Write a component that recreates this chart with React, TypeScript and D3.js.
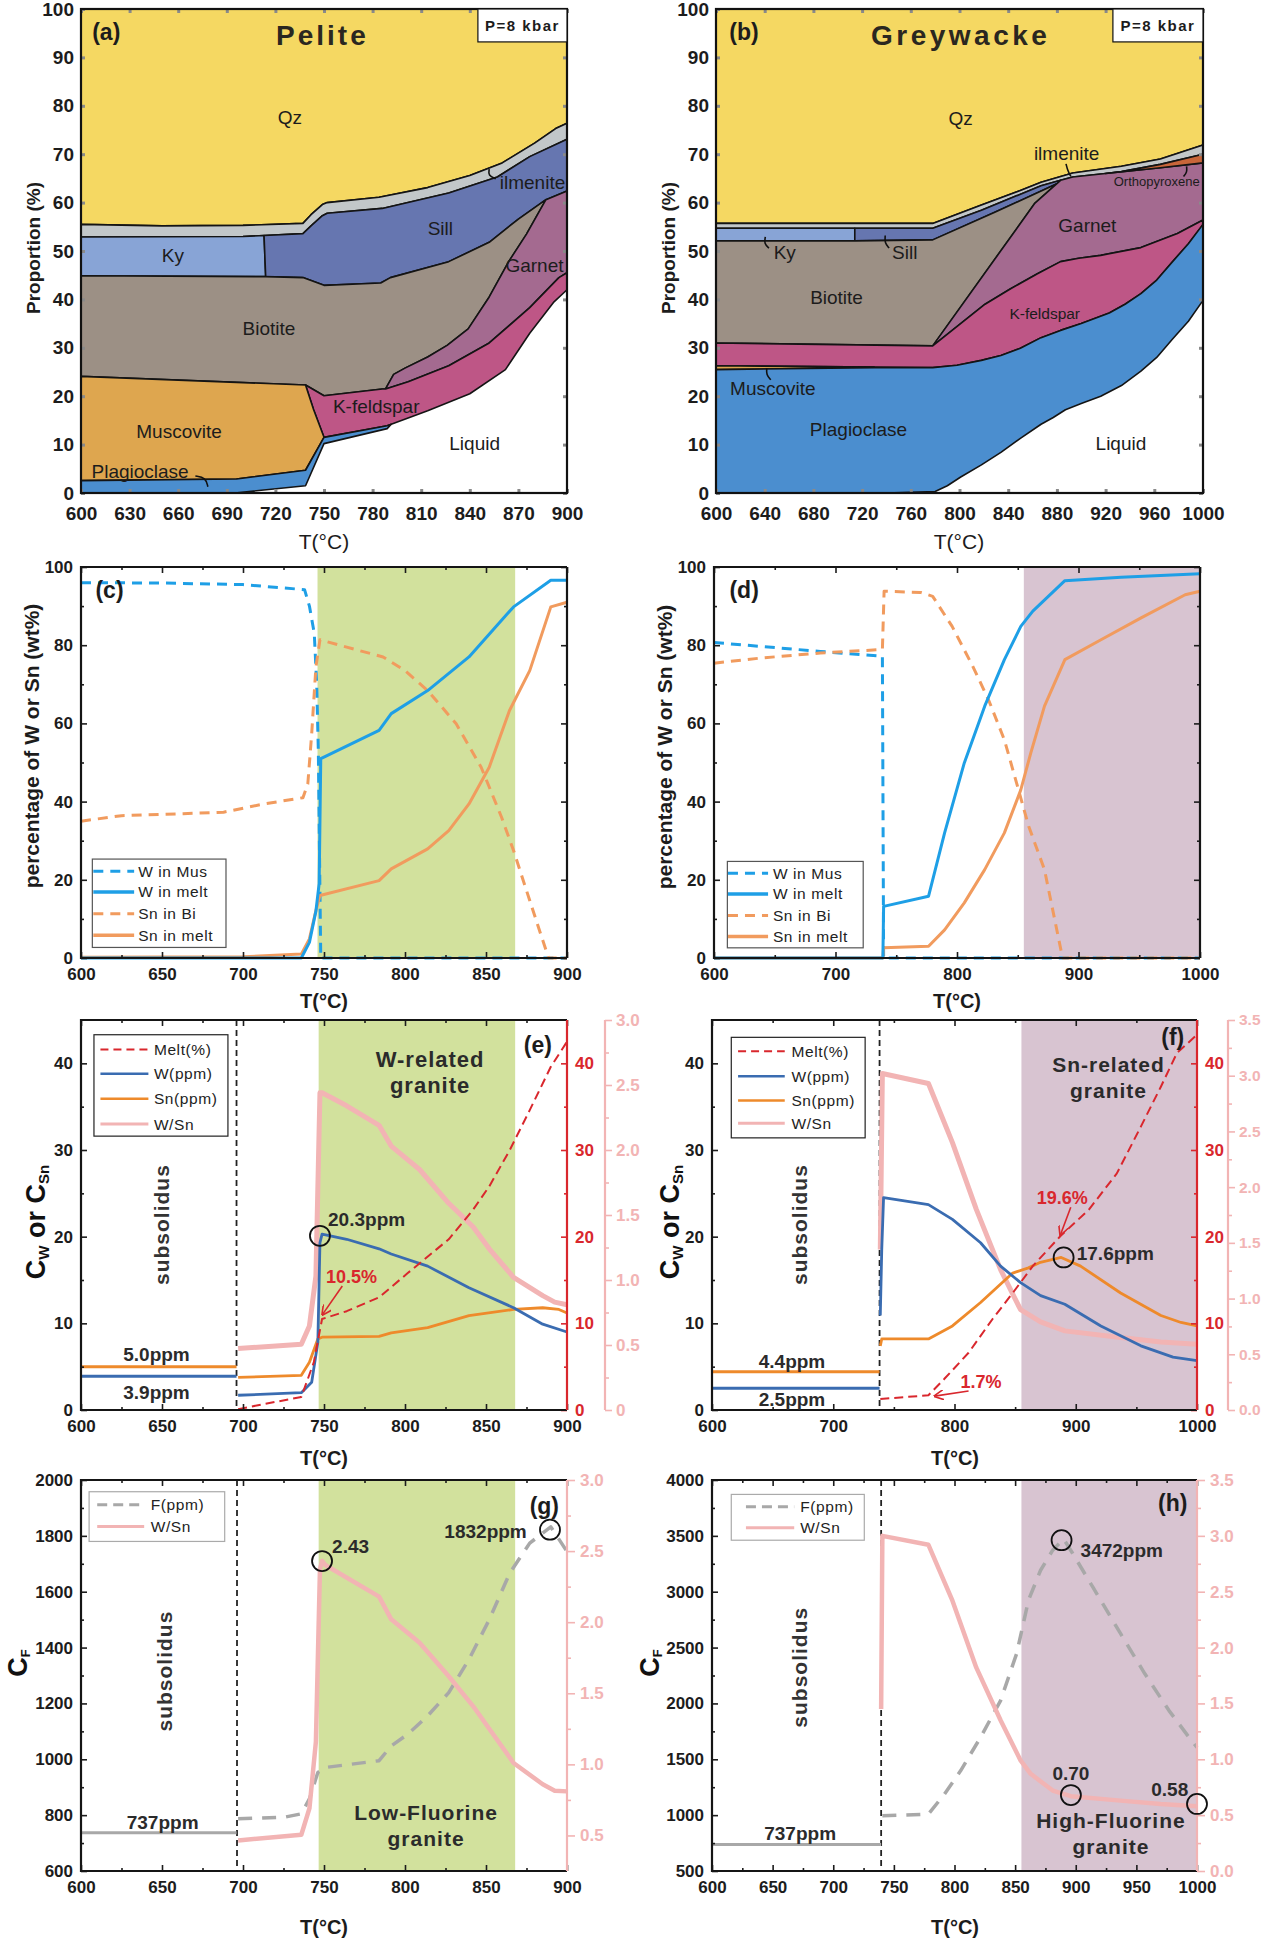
import { useEffect, useRef } from "react";
import * as d3 from "d3";

type Pt = [number, number];

// ---------- (a) Pelite phase fields: polygons in [T (°C), cumulative proportion (%)] ----------
const pelQz: Pt[] = [[600,55.5],[650,55.2],[700,55.3],[737,55.7],[742,57.5],[749,59.6],[752,60.0],[784,61.1],[814,63.1],[840,65.6],[860,68.2],[880,72.3],[893,75.3],[900,76.4],[900,100],[600,100]];
const pelIlm: Pt[] = [[600,55.5],[650,55.2],[700,55.3],[737,55.7],[742,57.5],[749,59.6],[752,60.0],[784,61.1],[814,63.1],[840,65.6],[860,68.2],[880,72.3],[893,75.3],[900,76.4],[900,73.1],[877,69.5],[857,65.3],[827,62.0],[786,58.8],[752,57.8],[749,57.3],[742,55.2],[737,53.6],[700,53.0],[600,52.9]];
const pelKy: Pt[] = [[600,52.9],[700,53.0],[713,53.2],[714,44.7],[600,44.9]];
const pelSill: Pt[] = [[713,53.2],[737,53.6],[742,55.2],[749,57.3],[752,57.8],[786,58.8],[827,62.0],[857,65.3],[877,69.5],[900,73.1],[900,62.4],[887,60.6],[870,56.6],[852,51.8],[827,47.8],[791,44.5],[785,43.4],[750,42.9],[737,44.5],[714,44.7]];
const pelBt: Pt[] = [[600,44.9],[714,44.7],[737,44.5],[750,42.9],[785,43.4],[791,44.5],[827,47.8],[852,51.8],[870,56.6],[887,60.6],[875,53.5],[864,47.8],[852,40.5],[839,33.9],[826,30.5],[814,28.1],[800,25.8],[793,24.5],[788,21.5],[786,21.5],[750,20.1],[738.6,22.3],[600,24.1]];
const pelGrt: Pt[] = [[887,60.6],[900,62.4],[900,45.5],[895,44.5],[877,38.3],[852,31.0],[827,26.3],[802,23.0],[788,21.5],[793,24.5],[800,25.8],[814,28.1],[826,30.5],[839,33.9],[852,40.5],[864,47.8],[875,53.5]];
const pelKfs: Pt[] = [[738.6,22.3],[750,20.1],[786,21.5],[788,21.5],[802,23.0],[827,26.3],[852,31.0],[877,38.3],[895,44.5],[900,45.5],[900,42.0],[892,39.5],[877,33.0],[862,25.5],[840,20.5],[814,17.0],[791.5,14.2],[789,13.9],[750,11.5],[743.6,17.2]];
const pelMs: Pt[] = [[600,24.1],[738.6,22.3],[743.6,17.2],[750,11.5],[738.6,4.7],[696,2.9],[600,2.55]];
const pelPl: Pt[] = [[600,2.55],[696,2.9],[738.6,4.7],[750,11.5],[789,13.9],[791.5,14.2],[789,13.3],[750,10.2],[738.6,1.5],[695,0],[600,0]];

// ---------- (b) Greywacke phase fields ----------
const gwQz: Pt[] = [[600,55.7],[778,55.7],[818,59.5],[850,62.5],[867,64.2],[893,66.1],[933,67.5],[965,69.0],[1000,71.9],[1000,100],[600,100]];
const gwIlm: Pt[] = [[600,55.7],[778,55.7],[818,59.5],[850,62.5],[867,64.2],[893,66.1],[933,67.5],[965,69.0],[1000,71.9],[1000,70.0],[965,67.9],[933,66.4],[920,66.0],[893,65.3],[883,64.6],[867,63.5],[818,58.4],[778,54.7],[600,54.7]];
const gwKy: Pt[] = [[600,54.7],[714,54.7],[714,52.1],[600,52.1]];
const gwSill: Pt[] = [[714,54.7],[778,54.7],[818,58.4],[867,63.5],[883,64.6],[880,63.9],[829,58.0],[778,52.3],[714,52.1]];
const gwBt: Pt[] = [[600,52.1],[714,52.1],[778,52.3],[829,58.0],[880,63.9],[862,59.9],[778,30.4],[600,31.0]];
const gwGrt: Pt[] = [[778,30.4],[862,59.9],[880,63.9],[883,64.6],[893,65.3],[920,66.0],[965,67.2],[1000,68.2],[1000,56.4],[979,53.6],[949,50.7],[916,49.1],[898,48.5],[883,47.8],[864,45.3],[842,42.2],[821,39.0]];
const gwOpx: Pt[] = [[920,66.0],[933,66.4],[965,67.9],[1000,70.0],[1000,68.2],[965,67.2]];
const gwKfs: Pt[] = [[600,31.0],[778,30.4],[821,39.0],[842,42.2],[864,45.3],[883,47.8],[898,48.5],[916,49.1],[949,50.7],[979,53.6],[1000,56.4],[1000,55.5],[988,51.5],[975,47.8],[962,44.0],[949,41.2],[936,39.0],[923,37.2],[900,35.0],[883,33.6],[867,32.1],[850,29.9],[834,28.4],[818,27.4],[798,26.4],[778,25.9],[730,26.0],[600,26.3]];
const gwMs: Pt[] = [[600,26.3],[730,26.0],[730,25.9],[600,25.5]];
const gwPl: Pt[] = [[600,25.5],[730,25.9],[778,25.9],[798,26.4],[818,27.4],[834,28.4],[850,29.9],[867,32.1],[883,33.6],[900,35.0],[923,37.2],[936,39.0],[949,41.2],[962,44.0],[975,47.8],[988,51.5],[1000,55.5],[1000,39.8],[988,35.5],[975,31.8],[962,28.0],[949,25.2],[933,22.2],[916,20.0],[900,18.5],[887,17.2],[877,15.6],[867,14.2],[850,11.3],[834,8.4],[818,5.8],[801,3.3],[790,1.5],[780,0.3],[740,0],[600,0]];

// ---------- (c) pelite: W and Sn distribution (wt%) ----------
const cWMus: Pt[] = [[600,96.0],[650,95.9],[700,95.5],[738,94.2],[741,90],[744,83],[745.5,70],[746.5,53],[747.2,27.5],[748,0],[900,0]];
const cWMelt: Pt[] = [[600,0],[736,0],[741,4],[745,12],[747,19],[748,51],[749,51.2],[784,58.2],[791.5,62.5],[814,68.4],[839.5,77],[867,89.8],[890,96.6],[900,96.6]];
const cSnBi: Pt[] = [[600,35],[625,36.4],[663,36.9],[688,37.3],[713,39.4],[737,41],[740,44.5],[742.4,57.3],[745,74.4],[747.5,81.4],[764,79.5],[786.5,77],[800,73.5],[814,68.4],[831.6,59.9],[847,48.8],[859.6,36],[867,27.5],[877,14.7],[888.6,0],[900,0]];
const cSnMelt: Pt[] = [[600,0.2],[700,0.3],[736,1],[741,4.9],[745,12.1],[747.5,16],[784,19.8],[791.5,22.8],[814,27.9],[827,32.6],[839.5,39.4],[852,48.8],[864.5,63.3],[877,73.5],[890,89.8],[900,91]];
const cBand: [number, number] = [746, 868];

// ---------- (d) greywacke: W and Sn distribution (wt%) ----------
const dWMus: Pt[] = [[600,80.7],[638,79.7],[687.5,78.4],[720.5,77.6],[738.6,77.2],[739.6,0],[1000,0]];
const dSnBi: Pt[] = [[600,75.4],[638,76.7],[687.5,78],[738.6,78.9],[740,93.8],[770,93.5],[780,92.5],[796,84.8],[813,74.6],[826,66],[839,55.8],[849,44.8],[859,33.7],[872,22.6],[885.5,2.1],[887,0],[1000,0]];
const dWMelt: Pt[] = [[600,0],[739,0],[739.6,13.2],[776.6,15.8],[789.8,32],[806,49.9],[822.8,64.4],[839,76.3],[852.5,84.8],[862.4,88.7],[888.8,96.5],[935,97.4],[1000,98.3]];
const dSnMelt: Pt[] = [[600,0],[739,0],[739.6,2.6],[776.6,3],[789.8,7.2],[806,14.1],[822.8,22.6],[839,32],[852.5,43],[860.7,52.4],[872,64.4],[888.8,76.3],[918.5,81.4],[951.5,87],[987.8,92.9],[1000,93.8]];
const dBand: [number, number] = [855, 1000];

// ---------- (e) pelite melt: Cw, Csn (ppm), melt (%), W/Sn ----------
const eMelt: Pt[] = [[697,0.1],[713.4,0.7],[736,1.5],[743.7,5.5],[748.8,10.5],[764,11.4],[784,13],[801.7,15.8],[827,19.7],[842,23.1],[852,25.8],[864.7,30],[877,34.6],[890,39.6],[900,42.5]];
const eW: Pt[] = [[697,1.7],[736,2.0],[742.4,3.2],[746.2,7.8],[747.5,19.3],[748.8,20.3],[764,19.7],[784,18.6],[791.5,18],[814,16.6],[839.5,14.1],[867,11.8],[885,9.9],[900,9.0]];
const eSn: Pt[] = [[697,3.76],[736,4.0],[741,5.5],[746.2,8.2],[748.8,8.4],[784,8.5],[791.5,8.9],[814,9.5],[839.5,10.9],[867,11.6],[885,11.8],[895,11.6],[900,11.2]];
const eRatio: Pt[] = [[697,0.473],[736,0.506],[741,0.647],[745,1.03],[747.5,2.44],[748.8,2.44],[764,2.34],[784,2.19],[791.5,2.03],[809,1.85],[827,1.59],[842,1.41],[852,1.24],[867,1.02],[885,0.88],[892.4,0.83],[900,0.81]];
const eWSub: Pt[] = [[600,3.9],[696,3.9]];
const eSnSub: Pt[] = [[600,5.0],[696,5.0]];
const eSolidus = 696;
const eBand: [number, number] = [746.7, 868];

// ---------- (f) greywacke melt ----------
const fMelt: Pt[] = [[738.8,1.27],[778.5,1.7],[791.7,3.6],[811.6,6.6],[831.4,10.5],[848,13.5],[864.5,16.6],[887.6,20.1],[910.7,23.1],[933.9,27.3],[953.7,32.7],[970.2,37.3],[983.5,41.2],[1000,43.3]];
const fW: Pt[] = [[738.8,10.9],[740,18.5],[741.5,24.5],[778.5,23.7],[798.3,22],[821.5,19.3],[838,16.6],[854.5,14.7],[871,13.2],[891,12.2],[920.7,9.7],[953.7,7.4],[980.2,6.1],[1000,5.7]];
const fSn: Pt[] = [[738.8,7.4],[740,8.2],[778.5,8.2],[798.3,9.7],[821.5,12.4],[848,15.8],[861,16.4],[870,17.0],[888,17.6],[904,16.6],[937,13.5],[970.2,10.9],[986.8,10.1],[1000,9.7]];
const fRatio: Pt[] = [[738.8,1.44],[740.5,3.02],[778.5,2.93],[798.3,2.4],[818,1.8],[838,1.26],[854.5,0.9],[871,0.79],[891,0.71],[937,0.65],[970.2,0.61],[1000,0.59]];
const fWSub: Pt[] = [[600,2.5],[738.2,2.5]];
const fSnSub: Pt[] = [[600,4.4],[738.2,4.4]];
const fSolidus = 738.2;
const fBand: [number, number] = [855.2, 1000];

// ---------- (g) pelite: F (ppm) and W/Sn ----------
const gF: Pt[] = [[697,786.7],[726,793],[736,804.6],[741,858],[746.2,953],[751.2,971],[784,995],[791.5,1048],[801.7,1090],[814,1155.5],[827,1238.7],[839.5,1357.7],[852,1500],[864.7,1667],[877,1774],[890,1832],[900,1744]];
const gRatio: Pt[] = [[697,0.465],[736,0.505],[741,0.69],[745,1.16],[747.5,2.37],[748.8,2.43],[751,2.4],[784,2.18],[791.5,2.02],[809,1.855],[827,1.62],[842,1.41],[852,1.25],[867,1.01],[885,0.86],[892.4,0.815],[900,0.81]];
const gFSub: Pt[] = [[600,737],[696,737]];
const gSolidus = 696.3;
const gBand: [number, number] = [746.7, 868];

// ---------- (h) greywacke: F (ppm) and W/Sn ----------
const hF: Pt[] = [[740.5,993.6],[778.5,1008.5],[791.7,1188],[805,1397],[821.5,1696.5],[838,2025.6],[851.2,2444],[861,2923],[871,3192],[881,3372],[890,3472],[897.5,3342],[914,3042.6],[937,2624],[957,2265],[976.9,1936],[993.4,1696.5],[1000,1607]];
const hRatio: Pt[] = [[739.5,1.45],[740.5,3.0],[778.5,2.92],[798.3,2.42],[818,1.82],[838,1.35],[854.5,0.99],[862.8,0.87],[881,0.72],[895.9,0.67],[937,0.63],[970,0.6],[1000,0.58]];
const hFSub: Pt[] = [[600,737],[739.5,737]];
const hSolidus = 739.5;
const hBand: [number, number] = [855.2, 1000];

const FONT = "'Liberation Sans', Arial, Helvetica, sans-serif";
const RED = "#D9272D";
const PINK = "#F2B4B4";
const BLUE_C = "#1E9FE6";
const ORANGE_C = "#F19B5E";
const BLUE_E = "#3A6CB1";
const ORANGE_E = "#EE8A2B";
const GREY_F = "#A8A8A8";
const GREEN = "#D2E19D";
const MAUVE = "#D8C4D1";
const INK = "#1c1c1c";

const App = () => {
  const ref = useRef<SVGSVGElement>(null);

  useEffect(() => {
    const svg = d3.select(ref.current);
    svg.selectAll("*").remove();
    const defs = svg.append("defs");
    defs
      .append("marker")
      .attr("id", "arrowRed")
      .attr("viewBox", "0 0 10 10")
      .attr("refX", 9)
      .attr("refY", 5)
      .attr("markerWidth", 10)
      .attr("markerHeight", 10)
      .attr("markerUnits", "userSpaceOnUse")
      .attr("orient", "auto")
      .append("path")
      .attr("d", "M0,0 L10,5 L0,10")
      .attr("fill", "none")
      .attr("stroke", RED)
      .attr("stroke-width", 1.6);

    const makePanel = (b: any, xd: number[], yd: number[]) => {
      const x = d3.scaleLinear().domain(xd).range([b.x0, b.x1]);
      const y = d3.scaleLinear().domain(yd).range([b.y1, b.y0]);
      const g = svg.append("g");
      return { x, y, g, b };
    };

    const drawAxis = (g: any, orient: string, scale: any, pos: number, values: number[], o: any) => {
      const gen =
        orient === "bottom" ? d3.axisBottom(scale) : orient === "top" ? d3.axisTop(scale) : orient === "left" ? d3.axisLeft(scale) : d3.axisRight(scale);
      gen
        .tickValues(values)
        .tickSize(o.size)
        .tickPadding(o.pad ?? 8)
        .tickFormat(o.labels === false ? () => "" : o.fmt ?? d3.format("d"));
      const tr = orient === "bottom" || orient === "top" ? `translate(0,${pos})` : `translate(${pos},0)`;
      const a = g.append("g").attr("transform", tr).call(gen);
      a.select(".domain").remove();
      a.selectAll(".tick line").attr("stroke", o.color ?? INK).attr("stroke-width", o.width ?? 1.6);
      a.selectAll(".tick text")
        .attr("fill", o.textColor ?? o.color ?? INK)
        .attr("font-size", o.fontSize ?? 17)
        .attr("font-weight", "bold")
        .attr("font-family", FONT);
    };

    const label = (g: any, x: number, y: number, s: string, o: any = {}) => {
      const t = g
        .append("text")
        .attr("x", x)
        .attr("y", y)
        .attr("text-anchor", o.anchor ?? "middle")
        .attr("dominant-baseline", "central")
        .attr("font-family", FONT)
        .attr("font-size", o.size ?? 19)
        .attr("font-weight", o.weight ?? "normal")
        .attr("letter-spacing", o.spacing ?? 0)
        .attr("fill", o.color ?? INK)
        .text(s);
      if (o.rotate) t.attr("transform", `rotate(-90,${x},${y})`);
      return t;
    };

    const path = (g: any, x: any, y: any, data: Pt[], color: string, width: number, dash?: string) =>
      g
        .append("path")
        .attr(
          "d",
          d3
            .line<Pt>()
            .x((d) => x(d[0]))
            .y((d) => y(d[1]))(data)
        )
        .attr("fill", "none")
        .attr("stroke", color)
        .attr("stroke-width", width)
        .attr("stroke-dasharray", dash ?? null)
        .attr("stroke-linejoin", "round");

    // ---------------- stacked phase panels ----------------
    const stacked = (b: any, xd: number[], xt: number[], phases: [Pt[], string][]) => {
      const p = makePanel(b, xd, [0, 100]);
      const poly = d3
        .line<Pt>()
        .x((d) => p.x(d[0]))
        .y((d) => p.y(d[1]))
        .curve(d3.curveLinearClosed);
      phases.forEach(([pts, fill]) =>
        p.g
          .append("path")
          .attr("d", poly(pts))
          .attr("fill", fill)
          .attr("stroke", "#141414")
          .attr("stroke-width", 1.6)
          .attr("stroke-linejoin", "round")
      );
      const yt = d3.range(0, 101, 10);
      const tk = { size: -4, color: "#8a8a8a", width: 3, textColor: INK, fontSize: 19 };
      drawAxis(p.g, "bottom", p.x, b.y1, xt, { ...tk, pad: 14 });
      drawAxis(p.g, "left", p.y, b.x0, yt, { ...tk, pad: 7 });
      drawAxis(p.g, "top", p.x, b.y0, xt, { ...tk, labels: false });
      drawAxis(p.g, "right", p.y, b.x1, yt, { ...tk, labels: false });
      p.g
        .append("rect")
        .attr("x", b.x0)
        .attr("y", b.y0)
        .attr("width", b.x1 - b.x0)
        .attr("height", b.y1 - b.y0)
        .attr("fill", "none")
        .attr("stroke", "#111")
        .attr("stroke-width", 2.2);
      return p;
    };

    const leader = (p: any, pts: Pt[]) =>
      p.g
        .append("path")
        .attr(
          "d",
          d3
            .line<Pt>()
            .x((d) => p.x(d[0]))
            .y((d) => p.y(d[1]))
            .curve(d3.curveBasis)(pts)
        )
        .attr("fill", "none")
        .attr("stroke", "#111")
        .attr("stroke-width", 1.6);

    const kbarBox = (p: any, t0: number) => {
      const b = p.b;
      p.g
        .append("rect")
        .attr("x", p.x(t0))
        .attr("y", b.y0)
        .attr("width", b.x1 - p.x(t0))
        .attr("height", p.y(93.2) - b.y0)
        .attr("fill", "#fff")
        .attr("stroke", "#111")
        .attr("stroke-width", 1.2);
      label(p.g, (p.x(t0) + b.x1) / 2, (b.y0 + p.y(93.2)) / 2, "P=8 kbar", { size: 15, weight: "bold", spacing: 1.5 });
    };

    // (a) Pelite
    const pa = stacked({ x0: 81, x1: 567, y0: 9, y1: 493 }, [600, 900], d3.range(600, 901, 30), [
      [pelQz, "#F5D862"],
      [pelIlm, "#C2C7C9"],
      [pelKy, "#88A4D6"],
      [pelSill, "#6676B0"],
      [pelBt, "#9C9085"],
      [pelGrt, "#A46A90"],
      [pelKfs, "#BE5686"],
      [pelMs, "#DEA64F"],
      [pelPl, "#4B8ECF"],
    ]);
    label(pa.g, pa.x(729), pa.y(77.5), "Qz");
    label(pa.g, pa.x(656.7), pa.y(49), "Ky");
    label(pa.g, pa.x(821.8), pa.y(54.7), "Sill");
    label(pa.g, pa.x(858.5), pa.y(64.2), "ilmenite", { anchor: "start" });
    leader(pa, [[852, 66.9], [851.3, 65.6], [856, 64.9]]);
    label(pa.g, pa.x(862), pa.y(47), "Garnet", { anchor: "start" });
    label(pa.g, pa.x(716), pa.y(34), "Biotite");
    label(pa.g, pa.x(755.5), pa.y(17.9), "K-feldspar", { anchor: "start" });
    label(pa.g, pa.x(660.5), pa.y(12.8), "Muscovite");
    label(pa.g, pa.x(843), pa.y(10.2), "Liquid");
    label(pa.g, pa.x(606.5), pa.y(4.4), "Plagioclase", { anchor: "start" });
    leader(pa, [[670.6, 3.5], [677, 3.2], [678.3, 1.3]]);
    label(pa.g, pa.x(749), pa.y(94.6), "Pelite", { size: 28, weight: "bold", spacing: 3, color: "#2a2720" });
    label(pa.g, pa.x(615.6), pa.y(95.3), "(a)", { size: 23, weight: "bold" });
    kbarBox(pa, 845);
    label(pa.g, 324, 541, "T(°C)", { size: 21 });
    label(pa.g, 33, 248, "Proportion (%)", { size: 19, weight: "bold", rotate: true });

    // (b) Greywacke
    const pb = stacked({ x0: 716, x1: 1203, y0: 9, y1: 493 }, [600, 1000], d3.range(600, 1001, 40), [
      [gwQz, "#F5D862"],
      [gwIlm, "#C2C7C9"],
      [gwKy, "#88A4D6"],
      [gwSill, "#6676B0"],
      [gwBt, "#9C9085"],
      [gwGrt, "#A46A90"],
      [gwOpx, "#C8663A"],
      [gwKfs, "#BE5686"],
      [gwMs, "#DEA64F"],
      [gwPl, "#4B8ECF"],
    ]);
    label(pb.g, pb.x(801), pb.y(77.4), "Qz");
    label(pb.g, pb.x(888), pb.y(70.1), "ilmenite");
    leader(pb, [[887.5, 68.0], [889, 66.5], [891.5, 65.4]]);
    label(pb.g, pb.x(962), pb.y(64.4), "Orthopyroxene", { size: 13 });
    leader(pb, [[986.5, 67.5], [987, 66.3], [984, 65.4]]);
    label(pb.g, pb.x(905), pb.y(55.3), "Garnet");
    label(pb.g, pb.x(656.5), pb.y(49.6), "Ky");
    leader(pb, [[640.5, 52.9], [639.5, 51.5], [643.5, 50.6]]);
    label(pb.g, pb.x(755), pb.y(49.6), "Sill");
    leader(pb, [[739, 53.2], [738.5, 51.7], [742.2, 50.6]]);
    label(pb.g, pb.x(699), pb.y(40.3), "Biotite");
    label(pb.g, pb.x(870), pb.y(37.1), "K-feldspar", { size: 15.5 });
    label(pb.g, pb.x(646.7), pb.y(21.5), "Muscovite");
    leader(pb, [[641.7, 25.8], [641.3, 24.4], [645, 23.4]]);
    label(pb.g, pb.x(717), pb.y(13.1), "Plagioclase");
    label(pb.g, pb.x(932.6), pb.y(10.2), "Liquid");
    label(pb.g, pb.x(801), pb.y(94.5), "Greywacke", { size: 28, weight: "bold", spacing: 3.5, color: "#2a2720" });
    label(pb.g, pb.x(623), pb.y(95.3), "(b)", { size: 23, weight: "bold" });
    kbarBox(pb, 926);
    label(pb.g, 959, 541, "T(°C)", { size: 21 });
    label(pb.g, 668, 248, "Proportion (%)", { size: 19, weight: "bold", rotate: true });

    // ---------------- line panels ----------------
    const band = (p: any, r: [number, number], color: string) =>
      p.g
        .append("rect")
        .attr("x", p.x(r[0]))
        .attr("y", p.b.y0)
        .attr("width", p.x(r[1]) - p.x(r[0]))
        .attr("height", p.b.y1 - p.b.y0)
        .attr("fill", color);

    const solidus = (p: any, t: number) =>
      p.g
        .append("line")
        .attr("x1", p.x(t))
        .attr("x2", p.x(t))
        .attr("y1", p.b.y0)
        .attr("y2", p.b.y1)
        .attr("stroke", "#222")
        .attr("stroke-width", 1.8)
        .attr("stroke-dasharray", "6,4");

    const xTicks = (p: any, major: number[], minor: number[]) => {
      drawAxis(p.g, "bottom", p.x, p.b.y1, major, { size: -6, pad: 10 });
      drawAxis(p.g, "bottom", p.x, p.b.y1, minor, { size: -3, labels: false });
      drawAxis(p.g, "top", p.x, p.b.y0, major, { size: -6, labels: false });
      drawAxis(p.g, "top", p.x, p.b.y0, minor, { size: -3, labels: false });
    };
    const yTicks = (p: any, major: number[], minor: number[], mirror: boolean) => {
      drawAxis(p.g, "left", p.y, p.b.x0, major, { size: -6, pad: 8 });
      drawAxis(p.g, "left", p.y, p.b.x0, minor, { size: -3, labels: false });
      if (mirror) {
        drawAxis(p.g, "right", p.y, p.b.x1, major, { size: -6, labels: false });
        drawAxis(p.g, "right", p.y, p.b.x1, minor, { size: -3, labels: false });
      }
    };
    const frame = (p: any, rightColor: string) => {
      const { x0, x1, y0, y1 } = p.b;
      p.g
        .append("path")
        .attr("d", `M${x1},${y0}H${x0}V${y1}H${x1}`)
        .attr("fill", "none")
        .attr("stroke", "#151515")
        .attr("stroke-width", 2.2);
      p.g
        .append("line")
        .attr("x1", x1)
        .attr("x2", x1)
        .attr("y1", y0)
        .attr("y2", y1)
        .attr("stroke", rightColor)
        .attr("stroke-width", 2.2);
    };
    const legend = (p: any, ys: any, bx: number[], rows: any[], rowY: number[], sample: number[], tx: number, border: string) => {
      p.g
        .append("rect")
        .attr("x", p.x(bx[0]))
        .attr("y", ys(bx[2]))
        .attr("width", p.x(bx[1]) - p.x(bx[0]))
        .attr("height", ys(bx[3]) - ys(bx[2]))
        .attr("fill", "#fff")
        .attr("stroke", border)
        .attr("stroke-width", 1.2);
      rows.forEach(([name, color, w, dash]: any, i: number) => {
        p.g
          .append("line")
          .attr("x1", p.x(sample[0]))
          .attr("x2", p.x(sample[1]))
          .attr("y1", ys(rowY[i]))
          .attr("y2", ys(rowY[i]))
          .attr("stroke", color)
          .attr("stroke-width", w)
          .attr("stroke-dasharray", dash);
        label(p.g, p.x(tx), ys(rowY[i]), name, { anchor: "start", size: 15.5, spacing: 0.6, color: "#222" });
      });
    };
    const circle = (p: any, cx: number, cy: number) =>
      p.g.append("circle").attr("cx", cx).attr("cy", cy).attr("r", 10).attr("fill", "none").attr("stroke", "#111").attr("stroke-width", 1.8);
    const arrow = (p: any, a: Pt, b: Pt) =>
      p.g
        .append("line")
        .attr("x1", p.x(a[0]))
        .attr("y1", p.y(a[1]))
        .attr("x2", p.x(b[0]))
        .attr("y2", p.y(b[1]))
        .attr("stroke", RED)
        .attr("stroke-width", 1.6)
        .attr("marker-end", "url(#arrowRed)");

    const cdRows = [
      ["W in Mus", BLUE_C, 3, "10,7"],
      ["W in melt", BLUE_C, 3.5, null],
      ["Sn in Bi", ORANGE_C, 3, "10,7"],
      ["Sn in melt", ORANGE_C, 3.5, null],
    ];

    // (c)
    const pc = makePanel({ x0: 81, x1: 567, y0: 567, y1: 958 }, [600, 900], [0, 100]);
    band(pc, cBand, GREEN);
    path(pc.g, pc.x, pc.y, cWMus, BLUE_C, 3, "10,7");
    path(pc.g, pc.x, pc.y, cSnBi, ORANGE_C, 3, "10,7");
    path(pc.g, pc.x, pc.y, cSnMelt, ORANGE_C, 3);
    path(pc.g, pc.x, pc.y, cWMelt, BLUE_C, 3);
    xTicks(pc, d3.range(600, 901, 50), d3.range(625, 900, 50));
    yTicks(pc, d3.range(0, 101, 20), d3.range(10, 100, 20), true);
    frame(pc, "#151515");
    legend(pc, pc.y, [607, 689.5, 25.3, 2.7], cdRows, [22.2, 16.9, 11.3, 5.8], [607.6, 632.8], 635.3, "#555");
    label(pc.g, pc.x(617.6), pc.y(94), "(c)", { size: 23, weight: "bold" });
    label(pc.g, 324, 1001, "T(°C)", { size: 20, weight: "bold" });
    label(pc.g, 31, 746, "percentage of W or Sn (wt%)", { size: 21, weight: "bold", rotate: true });

    // (d)
    const pd = makePanel({ x0: 714, x1: 1200, y0: 567, y1: 958 }, [600, 1000], [0, 100]);
    band(pd, dBand, MAUVE);
    path(pd.g, pd.x, pd.y, dWMus, BLUE_C, 3, "10,7");
    path(pd.g, pd.x, pd.y, dSnBi, ORANGE_C, 3, "10,7");
    path(pd.g, pd.x, pd.y, dSnMelt, ORANGE_C, 3);
    path(pd.g, pd.x, pd.y, dWMelt, BLUE_C, 3);
    xTicks(pd, d3.range(600, 1001, 100), d3.range(650, 1000, 100));
    yTicks(pd, d3.range(0, 101, 20), d3.range(10, 100, 20), true);
    frame(pd, "#151515");
    legend(pd, pd.y, [611, 722.8, 24.7, 2.6], cdRows, [21.7, 16.4, 10.9, 5.5], [611.5, 644.5], 648.5, "#555");
    label(pd.g, pd.x(624.8), pd.y(94.2), "(d)", { size: 23, weight: "bold" });
    label(pd.g, 957, 1001, "T(°C)", { size: 20, weight: "bold" });
    label(pd.g, 664, 747, "percentage of W or Sn (wt%)", { size: 21, weight: "bold", rotate: true });

    const efRows = [
      ["Melt(%)", RED, 2, "8,5"],
      ["W(ppm)", BLUE_E, 2.5, null],
      ["Sn(ppm)", ORANGE_E, 2.5, null],
      ["W/Sn", PINK, 3, null],
    ];

    const cwTitle = (p: any, x: number, y: number) => {
      const t = p.g
        .append("text")
        .attr("x", x)
        .attr("y", y)
        .attr("text-anchor", "middle")
        .attr("dominant-baseline", "central")
        .attr("font-family", FONT)
        .attr("font-weight", "bold")
        .attr("font-size", 27)
        .attr("fill", "#111")
        .attr("transform", `rotate(-90,${x},${y})`);
      t.append("tspan").text("C");
      t.append("tspan").attr("font-size", 15).attr("dy", 7).text("W");
      t.append("tspan").attr("dy", -7).text(" or C");
      t.append("tspan").attr("font-size", 15).attr("dy", 7).text("Sn");
    };
    const cfTitle = (p: any, x: number, y: number) => {
      const t = p.g
        .append("text")
        .attr("x", x)
        .attr("y", y)
        .attr("text-anchor", "middle")
        .attr("dominant-baseline", "central")
        .attr("font-family", FONT)
        .attr("font-weight", "bold")
        .attr("font-size", 27)
        .attr("fill", "#111")
        .attr("transform", `rotate(-90,${x},${y})`);
      t.append("tspan").text("C");
      t.append("tspan").attr("font-size", 13).attr("dy", 7).text("F");
    };

    const redAxis = (p: any) => {
      drawAxis(p.g, "right", p.y, p.b.x1, d3.range(0, 41, 10), { size: -6, pad: 8, color: RED });
      drawAxis(p.g, "right", p.y, p.b.x1, d3.range(5, 40, 10), { size: -3, labels: false, color: RED });
    };
    const pinkAxis = (p: any, s: any, xPos: number, major: number[], minor: number[], fmt: any, fs: number) => {
      p.g
        .append("line")
        .attr("x1", xPos)
        .attr("x2", xPos)
        .attr("y1", p.b.y0)
        .attr("y2", p.b.y1)
        .attr("stroke", PINK)
        .attr("stroke-width", 2.2);
      drawAxis(p.g, "right", s, xPos, major, { size: 7, pad: 4, color: PINK, fmt, fontSize: fs });
      drawAxis(p.g, "right", s, xPos, minor, { size: 4, labels: false, color: PINK });
    };
    const oneDec = (d: number) => d.toFixed(1);

    // (e)
    const pe = makePanel({ x0: 81, x1: 567, y0: 1020, y1: 1410 }, [600, 900], [0, 45]);
    const eR = d3.scaleLinear().domain([0, 3]).range([1410, 1020]);
    band(pe, eBand, GREEN);
    solidus(pe, eSolidus);
    path(pe.g, pe.x, eR, eRatio, PINK, 5);
    path(pe.g, pe.x, pe.y, eSnSub, ORANGE_E, 3);
    path(pe.g, pe.x, pe.y, eWSub, BLUE_E, 3);
    path(pe.g, pe.x, pe.y, eSn, ORANGE_E, 2.8);
    path(pe.g, pe.x, pe.y, eW, BLUE_E, 2.8);
    path(pe.g, pe.x, pe.y, eMelt, RED, 2, "9,5");
    xTicks(pe, d3.range(600, 901, 50), d3.range(625, 900, 50));
    yTicks(pe, d3.range(0, 41, 10), d3.range(5, 40, 10), false);
    redAxis(pe);
    pinkAxis(pe, eR, 605, d3.range(0, 3.01, 0.5), d3.range(0.25, 3, 0.5), (d: number) => (d === 0 ? "0" : d.toFixed(1)), 17);
    frame(pe, RED);
    legend(pe, pe.y, [608, 690.7, 43.3, 31.6], efRows, [41.6, 38.8, 35.9, 33.0], [612, 641.6], 645, "#222");
    label(pe.g, pe.x(815.5), pe.y(40.4), "W-related", { size: 22, weight: "bold", spacing: 1, color: "#2b2b2b" });
    label(pe.g, pe.x(815.5), pe.y(37.5), "granite", { size: 22, weight: "bold", spacing: 1, color: "#2b2b2b" });
    label(pe.g, pe.x(882), pe.y(42.1), "(e)", { size: 23, weight: "bold" });
    circle(pe, pe.x(747.5), pe.y(20.1));
    label(pe.g, pe.x(752.5), pe.y(22), "20.3ppm", { anchor: "start", size: 19, weight: "bold", color: "#2b2b2b" });
    label(pe.g, pe.x(751.2), pe.y(15.3), "10.5%", { anchor: "start", size: 18, weight: "bold", color: RED });
    arrow(pe, [761.3, 14.3], [749, 11]);
    label(pe.g, pe.x(646.6), pe.y(6.4), "5.0ppm", { size: 19, weight: "bold", color: "#2b2b2b" });
    label(pe.g, pe.x(646.6), pe.y(2.0), "3.9ppm", { size: 19, weight: "bold", color: "#2b2b2b" });
    label(pe.g, pe.x(650), pe.y(21.4), "subsolidus", { size: 21, weight: "bold", spacing: 1, color: "#333", rotate: true });
    label(pe.g, 324, 1458, "T(°C)", { size: 20, weight: "bold" });
    cwTitle(pe, 36, 1222);

    // (f)
    const pf = makePanel({ x0: 712, x1: 1197, y0: 1020, y1: 1410 }, [600, 1000], [0, 45]);
    const fR = d3.scaleLinear().domain([0, 3.5]).range([1410, 1020]);
    band(pf, fBand, MAUVE);
    solidus(pf, fSolidus);
    path(pf.g, pf.x, fR, fRatio, PINK, 5);
    path(pf.g, pf.x, pf.y, fSnSub, ORANGE_E, 3);
    path(pf.g, pf.x, pf.y, fWSub, BLUE_E, 3);
    path(pf.g, pf.x, pf.y, fSn, ORANGE_E, 2.8);
    path(pf.g, pf.x, pf.y, fW, BLUE_E, 2.8);
    path(pf.g, pf.x, pf.y, fMelt, RED, 2, "9,5");
    xTicks(pf, d3.range(600, 1001, 100), d3.range(650, 1000, 100));
    yTicks(pf, d3.range(0, 41, 10), d3.range(5, 40, 10), false);
    redAxis(pf);
    pinkAxis(pf, fR, 1228, d3.range(0, 3.51, 0.5), d3.range(0.25, 3.5, 0.5), oneDec, 15.5);
    frame(pf, RED);
    legend(pf, pf.y, [615.9, 726.3, 43.0, 31.4], efRows, [41.4, 38.5, 35.7, 33.1], [621.5, 660], 665.5, "#222");
    label(pf.g, pf.x(927), pf.y(39.9), "Sn-related", { size: 21, weight: "bold", spacing: 1, color: "#2b2b2b" });
    label(pf.g, pf.x(927), pf.y(36.9), "granite", { size: 21, weight: "bold", spacing: 1, color: "#2b2b2b" });
    label(pf.g, pf.x(980), pf.y(43.0), "(f)", { size: 23, weight: "bold" });
    circle(pf, pf.x(890), pf.y(17.6));
    label(pf.g, pf.x(900.8), pf.y(18.1), "17.6ppm", { anchor: "start", size: 19, weight: "bold", color: "#2b2b2b" });
    label(pf.g, pf.x(867.8), pf.y(24.5), "19.6%", { anchor: "start", size: 18, weight: "bold", color: RED });
    arrow(pf, [895.9, 23.4], [887.3, 20.2]);
    label(pf.g, pf.x(805), pf.y(3.2), "1.7%", { anchor: "start", size: 18, weight: "bold", color: RED });
    arrow(pf, [811.6, 2.2], [783.5, 1.6]);
    label(pf.g, pf.x(666), pf.y(5.6), "4.4ppm", { size: 19, weight: "bold", color: "#2b2b2b" });
    label(pf.g, pf.x(666), pf.y(1.2), "2.5ppm", { size: 19, weight: "bold", color: "#2b2b2b" });
    label(pf.g, pf.x(672), pf.y(21.4), "subsolidus", { size: 21, weight: "bold", spacing: 1, color: "#333", rotate: true });
    label(pf.g, 955, 1458, "T(°C)", { size: 20, weight: "bold" });
    cwTitle(pf, 670, 1222);

    const ghRows = [
      ["F(ppm)", GREY_F, 3, "10,6"],
      ["W/Sn", PINK, 3, null],
    ];

    // (g)
    const pg = makePanel({ x0: 81, x1: 567, y0: 1480, y1: 1871 }, [600, 900], [600, 2000]);
    const gR = d3.scaleLinear().domain([0.25, 3]).range([1871, 1480]);
    band(pg, gBand, GREEN);
    solidus(pg, gSolidus);
    path(pg.g, pg.x, pg.y, gFSub, GREY_F, 3.2);
    path(pg.g, pg.x, pg.y, gF, GREY_F, 3.5, "14,10");
    path(pg.g, pg.x, gR, gRatio, PINK, 4.5);
    xTicks(pg, d3.range(600, 901, 50), d3.range(625, 900, 50));
    yTicks(pg, d3.range(600, 2001, 200), d3.range(700, 2000, 200), false);
    drawAxis(pg.g, "right", gR, 567, d3.range(0.5, 3.01, 0.5), { size: 8, pad: 5, color: PINK, fmt: oneDec });
    drawAxis(pg.g, "right", gR, 567, d3.range(0.75, 3, 0.5), { size: 4, labels: false, color: PINK });
    frame(pg, PINK);
    legend(pg, pg.y, [605, 688.7, 1958, 1780], ghRows, [1911, 1833.5], [610, 639], 643, "#aaa");
    circle(pg, pg.x(748.8), gR(2.43));
    label(pg.g, pg.x(755), gR(2.53), "2.43", { anchor: "start", size: 19, weight: "bold", color: "#2b2b2b" });
    circle(pg, pg.x(889.5), pg.y(1822));
    label(pg.g, pg.x(824.3), pg.y(1815), "1832ppm", { anchor: "start", size: 19, weight: "bold", color: "#2b2b2b" });
    label(pg.g, pg.x(886), pg.y(1907), "(g)", { size: 23, weight: "bold" });
    label(pg.g, pg.x(813), pg.y(808), "Low-Fluorine", { size: 21, weight: "bold", spacing: 1, color: "#2b2b2b" });
    label(pg.g, pg.x(813), pg.y(715), "granite", { size: 21, weight: "bold", spacing: 1, color: "#2b2b2b" });
    label(pg.g, pg.x(650.4), pg.y(775), "737ppm", { size: 19, weight: "bold", color: "#2b2b2b" });
    label(pg.g, pg.x(651.7), pg.y(1316), "subsolidus", { size: 21, weight: "bold", spacing: 1, color: "#333", rotate: true });
    label(pg.g, 324, 1927, "T(°C)", { size: 20, weight: "bold" });
    cfTitle(pg, 18, 1663);

    // (h)
    const ph = makePanel({ x0: 712, x1: 1197, y0: 1480, y1: 1871 }, [600, 1000], [500, 4000]);
    const hR = d3.scaleLinear().domain([0, 3.5]).range([1871, 1480]);
    band(ph, hBand, MAUVE);
    solidus(ph, hSolidus);
    path(ph.g, ph.x, ph.y, hFSub, GREY_F, 3.2);
    path(ph.g, ph.x, ph.y, hF, GREY_F, 3.5, "14,10");
    path(ph.g, ph.x, hR, hRatio, PINK, 4.5);
    xTicks(ph, d3.range(600, 1001, 50), d3.range(625, 1000, 50));
    yTicks(ph, d3.range(500, 4001, 500), d3.range(750, 4000, 500), false);
    drawAxis(ph.g, "right", hR, 1197, d3.range(0, 3.51, 0.5), { size: 8, pad: 5, color: PINK, fmt: oneDec });
    drawAxis(ph.g, "right", hR, 1197, d3.range(0.25, 3.5, 0.5), { size: 4, labels: false, color: PINK });
    frame(ph, PINK);
    legend(ph, ph.y, [615.9, 725.6, 3871, 3461], ghRows, [3760, 3572], [628, 667.8], 672.7, "#aaa");
    circle(ph, ph.x(888.3), ph.y(3461));
    label(ph.g, ph.x(904), ph.y(3372), "3472ppm", { anchor: "start", size: 19, weight: "bold", color: "#2b2b2b" });
    circle(ph, ph.x(896), hR(0.68));
    label(ph.g, ph.x(896), ph.y(1373), "0.70", { size: 19, weight: "bold", color: "#2b2b2b" });
    circle(ph, ph.x(1000), hR(0.6));
    label(ph.g, ph.x(977.5), ph.y(1233), "0.58", { size: 19, weight: "bold", color: "#2b2b2b" });
    label(ph.g, ph.x(980), ph.y(3791), "(h)", { size: 23, weight: "bold" });
    label(ph.g, ph.x(929), ph.y(949), "High-Fluorine", { size: 21, weight: "bold", spacing: 1, color: "#2b2b2b" });
    label(ph.g, ph.x(929), ph.y(715), "granite", { size: 21, weight: "bold", spacing: 1, color: "#2b2b2b" });
    label(ph.g, ph.x(672.7), ph.y(835), "737ppm", { size: 19, weight: "bold", color: "#2b2b2b" });
    label(ph.g, ph.x(672), ph.y(2324), "subsolidus", { size: 21, weight: "bold", spacing: 1, color: "#333", rotate: true });
    label(ph.g, 955, 1927, "T(°C)", { size: 20, weight: "bold" });
    cfTitle(ph, 650, 1663);
  }, []);

  return (
    <svg
      ref={ref}
      width={1269}
      height={1938}
      style={{ position: "absolute", left: 0, top: 0, background: "#fff" }}
    />
  );
};

export default App;
